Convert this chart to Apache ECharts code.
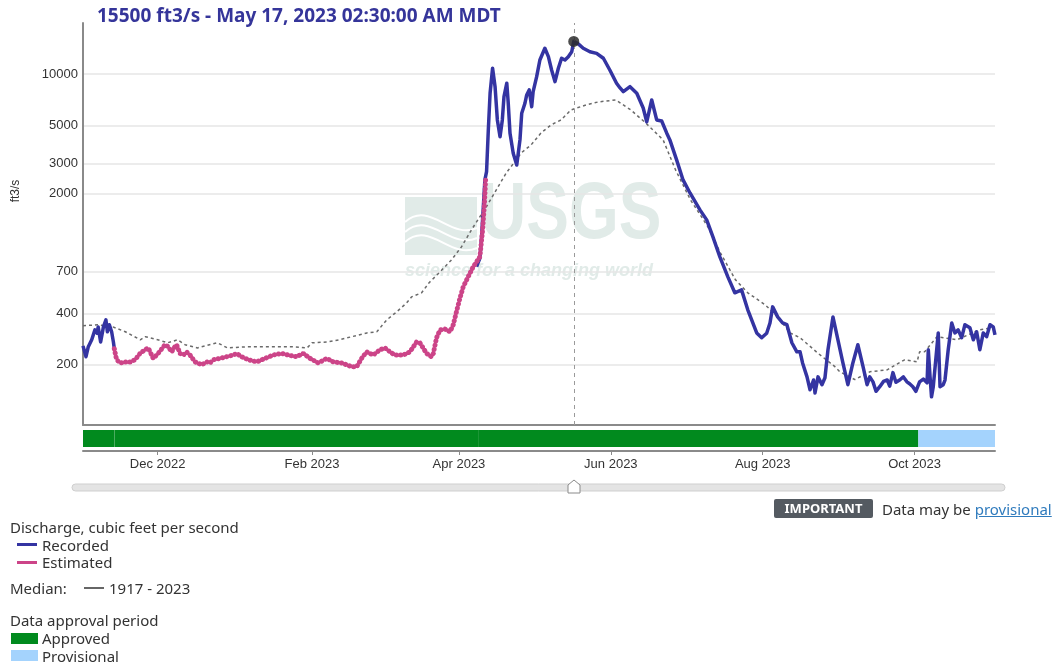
<!DOCTYPE html>
<html>
<head>
<meta charset="utf-8">
<title>Discharge</title>
<script src="https://cdn.jsdelivr.net/npm/echarts@6/dist/echarts.min.js"></script>
<style>
  html, body { margin: 0; padding: 0; background: #fff; }
  #chart { position: absolute; left: 0; top: 0; width: 1059px; height: 667px; }
  .lg { position: absolute; font-family: "Noto Sans", sans-serif; font-size: 15px; line-height: 16px; color: #333; white-space: nowrap; }
  .ln { position: absolute; height: 3px; }
  .sw { position: absolute; width: 27px; height: 11px; }
  .badge { position: absolute; left: 774px; top: 499px; width: 99px; height: 19px; background: #545a61; color: #fff;
           font-family: "Noto Sans", sans-serif; font-size: 13px; font-weight: bold; line-height: 19px; text-align: center; border-radius: 2px; }
  a { color: #2f7bbd; text-decoration: underline; }
</style>
</head>
<body>
<div id="chart"></div>

<div class="lg" style="left:10px;top:519px">Discharge, cubic feet per second</div>
<div class="ln" style="left:17px;top:543px;width:20px;background:#3434a2"></div>
<div class="lg" style="left:42px;top:537px">Recorded</div>
<div class="ln" style="left:17px;top:561px;width:20px;background:#cc4488"></div>
<div class="lg" style="left:42px;top:554px">Estimated</div>
<div class="lg" style="left:10px;top:580px">Median:</div>
<div class="ln" style="left:84px;top:587px;width:20px;height:1.5px;background:#666"></div>
<div class="lg" style="left:109px;top:580px">1917 - 2023</div>
<div class="lg" style="left:10px;top:612px">Data approval period</div>
<div class="sw" style="left:11px;top:633px;background:#018a1e"></div>
<div class="lg" style="left:42px;top:630px">Approved</div>
<div class="sw" style="left:11px;top:650px;background:#a4d3fd"></div>
<div class="lg" style="left:42px;top:648px">Provisional</div>

<div class="badge">IMPORTANT</div>
<div class="lg" style="left:882px;top:501px">Data may be <a>provisional</a></div>

<script>
// recorded discharge, ft3/s (blue)
const recordedFall = [
  ['2022-11-01 00:00', 258], ['2022-11-02 05:00', 223], ['2022-11-03 02:00', 254],
  ['2022-11-04 12:00', 280], ['2022-11-05 19:00', 320], ['2022-11-06 17:00', 306],
  ['2022-11-07 02:00', 333], ['2022-11-08 02:00', 272], ['2022-11-09 05:00', 333],
  ['2022-11-10 05:00', 366], ['2022-11-10 19:00', 312], ['2022-11-11 14:00', 343],
  ['2022-11-12 12:00', 312], ['2022-11-13 05:00', 272], ['2022-11-13 14:00', 248]
];
const recordedSpring = [
  ['2023-04-08 02:00', 750], ['2023-04-09 10:00', 840], ['2023-04-10 02:00', 1122],
  ['2023-04-10 19:00', 1680], ['2023-04-11 10:00', 2405], ['2023-04-12 02:00', 2690],
  ['2023-04-12 19:00', 4710], ['2023-04-13 12:00', 7720], ['2023-04-14 12:00', 10800],
  ['2023-04-15 12:00', 8430], ['2023-04-16 10:00', 5390], ['2023-04-17 12:00', 4300],
  ['2023-04-18 10:00', 5390], ['2023-04-19 02:00', 7370], ['2023-04-20 05:00', 8830],
  ['2023-04-20 19:00', 6745], ['2023-04-21 12:00', 4505], ['2023-04-22 19:00', 3445],
  ['2023-04-24 05:00', 2940], ['2023-04-25 12:00', 4120], ['2023-04-26 05:00', 5900],
  ['2023-04-27 12:00', 6745], ['2023-04-28 05:00', 7540], ['2023-04-29 05:00', 8070],
  ['2023-04-30 05:00', 6440], ['2023-04-30 19:00', 7890], ['2023-05-02 05:00', 9640],
  ['2023-05-03 12:00', 12070], ['2023-05-05 12:00', 14130], ['2023-05-06 22:00', 12620],
  ['2023-05-08 05:00', 10550], ['2023-05-09 14:00', 9020], ['2023-05-10 22:00', 10800],
  ['2023-05-12 05:00', 12350], ['2023-05-13 14:00', 12070], ['2023-05-14 22:00', 12620],
  ['2023-05-16 07:00', 13490], ['2023-05-17 02:30', 15500], ['2023-05-18 22:00', 15000],
  ['2023-05-20 22:00', 14130], ['2023-05-23 14:00', 13490], ['2023-05-26 07:00', 13200],
  ['2023-05-29 00:00', 12350], ['2023-05-31 14:00', 10550], ['2023-06-03 07:00', 8830],
  ['2023-06-04 17:00', 8285], ['2023-06-06 00:00', 7880], ['2023-06-08 17:00', 8430],
  ['2023-06-11 10:00', 7720], ['2023-06-14 00:00', 6330], ['2023-06-15 10:00', 5250],
  ['2023-06-17 10:00', 7050], ['2023-06-19 10:00', 5390], ['2023-06-21 10:00', 5310],
  ['2023-06-23 10:00', 4525], ['2023-06-24 17:00', 4120], ['2023-06-27 10:00', 3150],
  ['2023-06-30 00:00', 2405], ['2023-07-02 19:00', 2018], ['2023-07-06 19:00', 1607],
  ['2023-07-09 12:00', 1405], ['2023-07-12 00:00', 1118], ['2023-07-14 19:00', 855],
  ['2023-07-18 00:00', 653], ['2023-07-20 19:00', 527], ['2023-07-23 12:00', 548],
  ['2023-07-26 00:00', 419], ['2023-07-29 14:00', 307], ['2023-07-31 14:00', 288],
  ['2023-08-02 14:00', 306], ['2023-08-03 22:00', 351], ['2023-08-05 00:00', 436],
  ['2023-08-07 00:00', 381], ['2023-08-09 00:00', 351], ['2023-08-10 17:00', 343],
  ['2023-08-12 17:00', 269], ['2023-08-14 17:00', 238], ['2023-08-16 00:00', 238],
  ['2023-08-17 00:00', 205], ['2023-08-18 19:00', 170], ['2023-08-20 00:00', 143],
  ['2023-08-21 10:00', 163], ['2023-08-22 00:00', 137], ['2023-08-23 05:00', 170],
  ['2023-08-24 19:00', 153], ['2023-08-26 00:00', 168], ['2023-08-27 05:00', 245],
  ['2023-08-29 05:00', 381], ['2023-08-31 05:00', 280], ['2023-09-02 05:00', 205],
  ['2023-09-04 05:00', 153], ['2023-09-06 05:00', 205], ['2023-09-08 05:00', 262],
  ['2023-09-10 07:00', 195], ['2023-09-11 22:00', 153], ['2023-09-13 00:00', 170],
  ['2023-09-14 07:00', 159], ['2023-09-15 12:00', 140], ['2023-09-17 00:00', 149],
  ['2023-09-18 12:00', 160], ['2023-09-20 00:00', 163], ['2023-09-21 00:00', 150],
  ['2023-09-22 07:00', 180], ['2023-09-23 12:00', 158], ['2023-09-25 00:00', 163],
  ['2023-09-26 12:00', 170], ['2023-09-27 22:00', 159], ['2023-09-29 00:00', 155],
  ['2023-09-30 07:00', 149], ['2023-10-01 12:00', 140], ['2023-10-03 00:00', 159],
  ['2023-10-04 12:00', 165], ['2023-10-06 00:00', 157], ['2023-10-06 12:00', 245],
  ['2023-10-07 05:00', 170], ['2023-10-07 19:00', 130], ['2023-10-08 12:00', 149],
  ['2023-10-10 12:00', 307], ['2023-10-11 05:00', 149], ['2023-10-12 12:00', 153],
  ['2023-10-13 05:00', 163], ['2023-10-14 12:00', 245], ['2023-10-15 22:00', 351],
  ['2023-10-17 05:00', 307], ['2023-10-18 12:00', 320], ['2023-10-19 22:00', 288],
  ['2023-10-21 05:00', 343], ['2023-10-23 05:00', 329], ['2023-10-24 14:00', 280],
  ['2023-10-25 22:00', 312], ['2023-10-27 05:00', 245], ['2023-10-28 14:00', 307],
  ['2023-10-29 22:00', 292], ['2023-10-31 07:00', 343], ['2023-11-01 14:00', 333],
  ['2023-11-02 07:00', 299]
];

// estimated discharge, ft3/s (pink)
const estimated = [
  ['2022-11-13 14:00', 248], ['2022-11-14 12:00', 214], ['2022-11-15 22:00', 205],
  ['2022-11-17 22:00', 208], ['2022-11-19 22:00', 208], ['2022-11-21 22:00', 214],
  ['2022-11-23 22:00', 233], ['2022-11-25 22:00', 245], ['2022-11-27 05:00', 251],
  ['2022-11-29 05:00', 218], ['2022-12-01 05:00', 233], ['2022-12-03 22:00', 262],
  ['2022-12-05 07:00', 255], ['2022-12-06 14:00', 238], ['2022-12-07 22:00', 255],
  ['2022-12-08 14:00', 262], ['2022-12-10 00:00', 233], ['2022-12-11 07:00', 228],
  ['2022-12-12 14:00', 238], ['2022-12-14 00:00', 228], ['2022-12-16 00:00', 208],
  ['2022-12-18 17:00', 200], ['2022-12-20 17:00', 208], ['2022-12-22 00:00', 205],
  ['2022-12-23 07:00', 214], ['2022-12-26 00:00', 218], ['2022-12-28 17:00', 223],
  ['2022-12-31 10:00', 228], ['2023-01-01 17:00', 233], ['2023-01-03 17:00', 223],
  ['2023-01-06 10:00', 214], ['2023-01-09 19:00', 208], ['2023-01-13 02:00', 218],
  ['2023-01-16 10:00', 228], ['2023-01-19 19:00', 233], ['2023-01-22 10:00', 228],
  ['2023-01-25 19:00', 223], ['2023-01-28 12:00', 233], ['2023-01-31 05:00', 218],
  ['2023-02-03 12:00', 205], ['2023-02-06 22:00', 218], ['2023-02-09 12:00', 208],
  ['2023-02-12 22:00', 205], ['2023-02-14 22:00', 200], ['2023-02-16 22:00', 195],
  ['2023-02-18 22:00', 195], ['2023-02-20 22:00', 218], ['2023-02-22 22:00', 238],
  ['2023-02-25 14:00', 228], ['2023-02-28 07:00', 245], ['2023-03-02 07:00', 251],
  ['2023-03-04 07:00', 238], ['2023-03-06 07:00', 228], ['2023-03-09 14:00', 228],
  ['2023-03-12 07:00', 238], ['2023-03-15 00:00', 272], ['2023-03-16 07:00', 269],
  ['2023-03-19 00:00', 233], ['2023-03-21 00:00', 223], ['2023-03-21 17:00', 233],
  ['2023-03-23 00:00', 288], ['2023-03-24 10:00', 320], ['2023-03-26 10:00', 323],
  ['2023-03-28 10:00', 312], ['2023-03-29 17:00', 343], ['2023-03-31 02:00', 413],
  ['2023-04-01 10:00', 492], ['2023-04-02 17:00', 571], ['2023-04-04 17:00', 653],
  ['2023-04-06 17:00', 747], ['2023-04-08 02:00', 800], ['2023-04-09 10:00', 855],
  ['2023-04-10 12:00', 1228], ['2023-04-11 05:00', 1719], ['2023-04-11 17:00', 2405]
];

// daily median 1917 - 2023, ft3/s (grey dashed)
const median = [
  ['2022-11-01', 338], ['2022-11-07', 343], ['2022-11-13', 333], ['2022-11-18', 312],
  ['2022-11-24', 280], ['2022-11-26', 292], ['2022-12-01', 280], ['2022-12-05', 269],
  ['2022-12-09', 280], ['2022-12-12', 262], ['2022-12-17', 251], ['2022-12-25', 269],
  ['2022-12-29', 251], ['2023-01-06', 255], ['2023-01-11', 255], ['2023-01-18', 255],
  ['2023-01-24', 255], ['2023-01-30', 251], ['2023-02-01', 269], ['2023-02-07', 272],
  ['2023-02-12', 280], ['2023-02-17', 292], ['2023-02-23', 307], ['2023-02-27', 312],
  ['2023-03-03', 366], ['2023-03-07', 408], ['2023-03-11', 460], ['2023-03-13', 499],
  ['2023-03-17', 527], ['2023-03-20', 603], ['2023-03-24', 689], ['2023-03-29', 820],
  ['2023-04-02', 977], ['2023-04-06', 1228], ['2023-04-12', 1675], ['2023-04-16', 2104],
  ['2023-04-20', 2642], ['2023-04-24', 3150], ['2023-04-26', 3460], ['2023-04-30', 3855],
  ['2023-05-04', 4530], ['2023-05-08', 5040], ['2023-05-12', 5390], ['2023-05-16', 6166],
  ['2023-05-22', 6590], ['2023-05-27', 6865], ['2023-06-03', 7050], ['2023-06-09', 6166],
  ['2023-06-15', 5175], ['2023-06-22', 4120], ['2023-06-27', 2750], ['2023-07-03', 1838],
  ['2023-07-10', 1280], ['2023-07-15', 902], ['2023-07-21', 629], ['2023-07-26', 527],
  ['2023-08-02', 448], ['2023-08-07', 381], ['2023-08-12', 307], ['2023-08-16', 288],
  ['2023-08-23', 235], ['2023-08-30', 195], ['2023-09-01', 182], ['2023-09-07', 164],
  ['2023-09-13', 182], ['2023-09-20', 187], ['2023-09-27', 214], ['2023-10-02', 208],
  ['2023-10-03', 238], ['2023-10-05', 238], ['2023-10-10', 292], ['2023-10-18', 280],
  ['2023-10-27', 320], ['2023-11-01', 329]
];

// approval periods: start, end, status
const approval = [
  ['2022-11-01 00:00', '2022-11-13 12:00', 'Approved'],
  ['2022-11-13 14:00', '2023-04-09 00:00', 'Approved'],
  ['2023-04-09 00:00', '2023-10-02 12:00', 'Approved'],
  ['2023-10-02 12:00', '2023-11-02 07:00', 'Provisional']
];

const yTicks = [200, 400, 700, 2000, 3000, 5000, 10000];
const xTicks = ['2022-12-01', '2023-02-01', '2023-04-01', '2023-06-01', '2023-08-01', '2023-10-01'];
const monthNames = ['Jan', 'Feb', 'Mar', 'Apr', 'May', 'Jun', 'Jul', 'Aug', 'Sep', 'Oct', 'Nov', 'Dec'];

const xMin = '2022-11-01 00:00';
const xMax = '2023-11-02 07:00';
const peak = ['2023-05-17 02:30', 15500];

// dates -> timestamps for the value axes
const ts = s => echarts.time.parse(s).getTime();
const toXY = arr => arr.map(d => [ts(d[0]), d[1]]);

const chart = echarts.init(document.getElementById('chart'), null, { renderer: 'canvas' });

const axisFont = { fontFamily: 'Liberation Sans, Arial, sans-serif', fontSize: 13, color: '#333' };
const wm = '#e1ebe8';
const lineStyleRec = { color: '#3434a2', width: 3.5, join: 'round' };

const option = {
  animation: false,
  backgroundColor: '#ffffff',
  title: {
    text: peak[1] + ' ft3/s - May 17, 2023 02:30:00 AM MDT',
    left: 92, top: 2,
    textStyle: { fontFamily: 'Noto Sans', fontSize: 19, fontWeight: 'bold', color: '#35359a' }
  },
  grid: [
    { left: 83, top: 23, width: 912, height: 402 },
    { left: 83, top: 428, width: 912, height: 23 }
  ],
  xAxis: [
    {
      type: 'value', gridIndex: 0, min: ts(xMin), max: ts(xMax),
      axisLine: { show: true, onZero: false, lineStyle: { color: '#8a8a8a', width: 2 } },
      axisTick: { show: false }, axisLabel: { show: false }, splitLine: { show: false }
    },
    {
      type: 'value', gridIndex: 1, min: ts(xMin), max: ts(xMax),
      axisLine: { show: true, onZero: false, lineStyle: { color: '#8a8a8a', width: 2 } },
      axisTick: { show: true, length: 4, customValues: xTicks.map(ts), lineStyle: { color: '#8a8a8a' } },
      axisLabel: {
        ...axisFont, margin: 7, customValues: xTicks.map(ts),
        formatter: v => { const d = new Date(v); return monthNames[d.getMonth()] + ' ' + d.getFullYear(); }
      },
      splitLine: { show: false }
    }
  ],
  yAxis: [
    {
      type: 'log', gridIndex: 0, min: 89, max: 19850,
      axisLine: { show: true, lineStyle: { color: '#8a8a8a', width: 2 } },
      axisTick: { show: false, customValues: yTicks },
      axisLabel: { ...axisFont, margin: 5, customValues: yTicks, formatter: v => String(Math.round(v)) },
      splitLine: { show: true, customValues: yTicks, lineStyle: { color: '#e6e6e6', width: 1.5 } }
    },
    {
      type: 'value', gridIndex: 1, min: 0, max: 1, show: false
    }
  ],
  graphic: [
    { type: 'text', x: 16, y: 191, rotation: Math.PI / 2,
      style: { text: 'ft3/s', font: '12px "Liberation Sans", Arial', fill: '#333', align: 'center', verticalAlign: 'middle' } },
    // USGS watermark
    { type: 'rect', z: 0, shape: { x: 405, y: 197, width: 72, height: 58 }, style: { fill: wm } },
    { type: 'bezierCurve', z: 0, shape: { x1: 405, y1: 222, x2: 477, y2: 228, cpx1: 430, cpy1: 200, cpx2: 450, cpy2: 240 }, style: { stroke: '#fff', lineWidth: 2, fill: null } },
    { type: 'bezierCurve', z: 0, shape: { x1: 405, y1: 232, x2: 477, y2: 238, cpx1: 430, cpy1: 210, cpx2: 450, cpy2: 250 }, style: { stroke: '#fff', lineWidth: 2, fill: null } },
    { type: 'bezierCurve', z: 0, shape: { x1: 405, y1: 242, x2: 477, y2: 248, cpx1: 430, cpy1: 220, cpx2: 450, cpy2: 260 }, style: { stroke: '#fff', lineWidth: 2, fill: null } },
    { type: 'text', z: 0, x: 480, y: 256, scaleX: 0.8,
      style: { text: 'USGS', font: 'bold 80px "Liberation Sans", Arial', fill: wm, align: 'left', verticalAlign: 'bottom' } },
    { type: 'text', z: 0, x: 405, y: 271,
      style: { text: 'science for a changing world', font: 'italic bold 18px "Liberation Sans", Arial', fill: wm, align: 'left', verticalAlign: 'middle' } },
    // time slider
    { type: 'rect', shape: { x: 72, y: 484, width: 933, height: 7, r: 3.5 }, style: { fill: '#e4e4e4', stroke: '#cfcfcf', lineWidth: 1 } },
    { type: 'polygon', shape: { points: [[568, 493], [568, 485], [574, 480], [580, 485], [580, 493]] }, style: { fill: '#fff', stroke: '#8a8a8a', lineWidth: 1 } }
  ],
  series: [
    {
      name: 'Approval', type: 'custom', xAxisIndex: 1, yAxisIndex: 1,
      data: approval.map(a => [ts(a[0]), ts(a[1])]),
      encode: { x: [0, 1] },
      renderItem: (params, api) => {
        const s = api.coord([api.value(0), 0]);
        const e = api.coord([api.value(1), 0]);
        const cs = params.coordSys;
        const status = approval[params.dataIndex][2];
        return {
          type: 'rect',
          shape: { x: s[0], y: cs.y + 2, width: e[0] - s[0], height: cs.height - 6 },
          style: { fill: status === 'Approved' ? '#018a1e' : '#a4d3fd' }
        };
      }
    },
    {
      name: 'Median', type: 'line', data: toXY(median), showSymbol: false, z: 2,
      lineStyle: { color: '#6a6a6a', width: 1.5, type: [3, 3] }
    },
    {
      name: 'Recorded', type: 'line', data: toXY(recordedFall), showSymbol: false, z: 3,
      lineStyle: lineStyleRec
    },
    {
      name: 'Recorded', type: 'line', data: toXY(recordedSpring), showSymbol: false, z: 3,
      lineStyle: lineStyleRec,
      markLine: {
        silent: true, symbol: 'none', label: { show: false },
        lineStyle: { color: '#9a9a9a', width: 1, type: [4, 4] },
        data: [{ xAxis: ts(peak[0]) }]
      },
      markPoint: {
        silent: true, symbol: 'circle', symbolSize: 11, label: { show: false },
        itemStyle: { color: 'rgba(45,45,45,0.85)' },
        data: [{ coord: [ts(peak[0]), peak[1]] }]
      }
    },
    {
      name: 'Estimated', type: 'line', data: toXY(estimated), showSymbol: false, z: 4,
      lineStyle: { color: '#cc4488', width: 5, type: [0.1, 4.2], cap: 'round' }
    }
  ]
};

chart.setOption(option);
</script>
</body>
</html>
